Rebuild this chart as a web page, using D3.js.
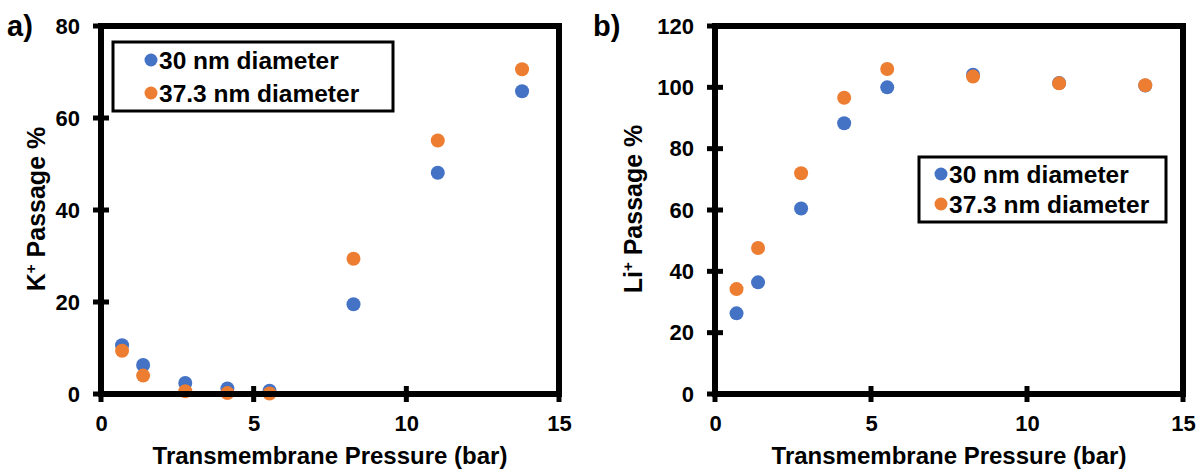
<!DOCTYPE html>
<html>
<head>
<meta charset="utf-8">
<script src="https://cdn.jsdelivr.net/npm/d3@7"></script>
<style>
  html, body { margin: 0; padding: 0; background: #fff; }
  svg { display: block; font-family: "Liberation Sans", Arial, sans-serif; font-weight: bold; }
</style>
</head>
<body>
<svg id="chart" width="1200" height="469"></svg>
<script>
// ---- Data ----
const pressure = [0.69, 1.38, 2.76, 4.14, 5.52, 8.27, 11.03, 13.79];
const seriesNames = ["30 nm diameter", "37.3 nm diameter"];
const kPassage30 = [10.6, 6.3, 2.4, 1.2, 0.7, 19.5, 48.1, 65.8];
const kPassage373 = [9.4, 4.0, 0.6, 0.2, 0.1, 29.4, 55.1, 70.6];
const liPassage30 = [26.3, 36.4, 60.5, 88.3, 100.0, 104.1, 101.4, 100.6];
const liPassage373 = [34.2, 47.6, 72.0, 96.6, 106.0, 103.5, 101.3, 100.7];
const xTicks = [0, 5, 10, 15];
const kTicks = [0, 20, 40, 60, 80];
const liTicks = [0, 20, 40, 60, 80, 100, 120];
const colors = ["#4472C4", "#ED7D31"];

const svg = d3.select("#chart");
const FONT = "Liberation Sans, Arial, sans-serif";

function drawPanel(opt) {
  const g = svg.append("g");
  const x = d3.scaleLinear().domain([0, 15]).range([opt.left, opt.right]);
  const y = d3.scaleLinear().domain([0, opt.yMax]).range([opt.bottom, opt.top]);
  const lw = 6;

  // points
  const series = [opt.s1, opt.s2];
  series.forEach((vals, si) => {
    g.append("g").selectAll("circle")
      .data(vals.map((v, i) => ({x: pressure[i], y: v})))
      .join("circle")
      .attr("cx", d => x(d.x))
      .attr("cy", d => y(d.y))
      .attr("r", 7)
      .attr("fill", colors[si]);
  });

  // frame
  g.append("rect")
    .attr("x", opt.left).attr("y", opt.top)
    .attr("width", opt.right - opt.left).attr("height", opt.bottom - opt.top)
    .attr("fill", "none").attr("stroke", "#000").attr("stroke-width", lw);

  // y axis
  const yAxis = d3.axisLeft(y).tickValues(opt.yTicks).tickSize(0).tickPadding(21);
  const ya = g.append("g").attr("transform", `translate(${opt.left},0)`).call(yAxis);
  ya.select(".domain").remove();
  ya.selectAll("text").attr("font-size", 22).attr("font-family", FONT).attr("font-weight", "bold").attr("fill", "#000");
  g.append("g").selectAll("line").data(opt.yTicks).join("line")
    .attr("x1", opt.left - 8).attr("x2", opt.left + 8)
    .attr("y1", d => y(d)).attr("y2", d => y(d))
    .attr("stroke", "#000").attr("stroke-width", 5);

  // x axis
  const xAxis = d3.axisBottom(x).tickValues(xTicks).tickSize(0).tickPadding(21);
  const xa = g.append("g").attr("transform", `translate(0,${opt.bottom})`).call(xAxis);
  xa.select(".domain").remove();
  xa.selectAll("text").attr("font-size", 22).attr("font-family", FONT).attr("font-weight", "bold").attr("fill", "#000");
  g.append("g").selectAll("line").data(xTicks).join("line")
    .attr("x1", d => x(d)).attr("x2", d => x(d))
    .attr("y1", opt.bottom - 8).attr("y2", opt.bottom + 8)
    .attr("stroke", "#000").attr("stroke-width", 5);

  // x title
  g.append("text")
    .attr("x", (opt.left + opt.right) / 2).attr("y", 464)
    .attr("text-anchor", "middle").attr("font-size", 24)
    .text("Transmembrane Pressure (bar)");

  // y title
  const yt = g.append("text")
    .attr("transform", `translate(${opt.yTitleX},${(opt.top + opt.bottom) / 2 - 1}) rotate(-90)`)
    .attr("text-anchor", "middle").attr("font-size", 25);
  yt.append("tspan").text(opt.ion);
  yt.append("tspan").text("+").attr("font-size", 15).attr("dy", -9);
  yt.append("tspan").text(" Passage %").attr("dy", 9);

  // panel label
  g.append("text").attr("x", opt.labelX).attr("y", 36).attr("font-size", 29).text(opt.label);

  // legend
  const lg = g.append("g");
  lg.append("rect")
    .attr("x", opt.legX).attr("y", opt.legY)
    .attr("width", opt.legW).attr("height", opt.legH)
    .attr("fill", "#fff").attr("stroke", "#000").attr("stroke-width", 3);
  seriesNames.forEach((name, i) => {
    const cy = opt.legY + opt.legRow0 + i * opt.legRowH;
    lg.append("circle").attr("cx", opt.legX + opt.legMarkX).attr("cy", cy).attr("r", 6.5).attr("fill", colors[i]);
    lg.append("text").attr("x", opt.legX + opt.legMarkX + 8).attr("y", cy + 8.5)
      .attr("font-size", 24.5).text(name);
  });
}

drawPanel({
  left: 101, right: 559, top: 26, bottom: 394, yMax: 80, yTicks: kTicks,
  s1: kPassage30, s2: kPassage373, ion: "K", yTitleX: 45, label: "a)", labelX: 7,
  legX: 113, legY: 42, legW: 280, legH: 69, legRow0: 18, legRowH: 33, legMarkX: 38
});
drawPanel({
  left: 715, right: 1183, top: 26, bottom: 394, yMax: 120, yTicks: liTicks,
  s1: liPassage30, s2: liPassage373, ion: "Li", yTitleX: 642, label: "b)", labelX: 593,
  legX: 919, legY: 157, legW: 247, legH: 65, legRow0: 17, legRowH: 30, legMarkX: 22
});
</script>
</body>
</html>
